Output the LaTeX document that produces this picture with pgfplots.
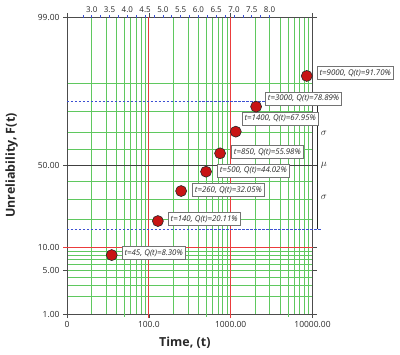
\documentclass[border=0pt]{standalone}
\usepackage{fontspec}
\setmainfont{Open Sans}
\usepackage{pgfplots}
\pgfplotsset{compat=1.18}

\definecolor{gridgreen}{RGB}{95,200,95}
\definecolor{gridred}{RGB}{235,60,60}
\definecolor{dashblue}{RGB}{60,80,210}
\definecolor{ptred}{RGB}{200,20,20}
\definecolor{txt}{RGB}{40,40,40}

\begin{document}
\begin{tikzpicture}
\begin{axis}[
  scale only axis, width=245.5bp, height=297bp,
  xmode=log, xmin=10, xmax=10000,
  ymin=-2.3263, ymax=2.3263,
  xtick={10,100,1000,10000}, xticklabels={0,100.0,1000.00,10000.00},
  ytick={-2.3263,-1.6449,-1.2816,0,2.3263},
  yticklabels={1.00,5.00,10.00,50.00,99.00},
  minor xtick={20,30,40,50,60,70,80,90,200,300,400,500,600,700,800,900,2000,3000,4000,5000,6000,7000,8000,9000},
  minor ytick={-2.0537,-1.8808,-1.7507,-1.6449,-1.5548,-1.4758,-1.4051,-1.3408,-0.8416,-0.5244,-0.2533,0.2533,0.5244,0.8416,1.2816},
  xminorgrids=true, yminorgrids=true,
  xmajorgrids=false, ymajorgrids=false,
  minor grid style={draw=gridgreen, line width=0.7pt},
  minor x grid style={draw=gridgreen, line width=0.7pt},
  minor y grid style={draw=gridgreen, line width=0.7pt},
  tick align=outside, major tick length=4bp, minor tick length=0pt,
  axis line style={black!70, line width=0.8pt},
  major tick style={black!70, line width=0.6pt},
  ticklabel style={font=\fontsize{8.5}{10}\selectfont, text=txt},
  xlabel={Time, (t)}, ylabel={Unreliability, F(t)},
  label style={font=\fontsize{12.5}{14}\selectfont\bfseries, text=txt},
  ylabel style={at={(axis description cs:-0.225,0.5)}, anchor=center},
  xlabel style={at={(axis description cs:0.48,0)}, yshift=-29bp, anchor=center},
  clip=false,
  /pgf/number format/assume math mode=true,
]
% special grid lines
\draw[gridred, line width=0.8pt] ([yshift=-4bp]axis cs:100,-2.3263) -- (axis cs:100,2.3263);
\draw[gridred, line width=0.8pt] ([yshift=-4bp]axis cs:1000,-2.3263) -- (axis cs:1000,2.3263);
\draw[gridred, line width=0.8pt] ([xshift=-4bp]axis cs:10,-1.2816) -- (axis cs:10000,-1.2816);
\draw[gridgreen, line width=0.7pt] ([yshift=-2.5bp]axis cs:50,-2.3263) -- (axis cs:50,-2.3263);
\draw[gridgreen, line width=0.7pt] ([yshift=-2.5bp]axis cs:500,-2.3263) -- (axis cs:500,-2.3263);
\draw[gridgreen, line width=0.7pt] ([yshift=-2.5bp]axis cs:5000,-2.3263) -- (axis cs:5000,-2.3263);
\draw[black!75, line width=0.9pt] (axis cs:10,0) -- (axis cs:11400,0);
\draw[dashblue, line width=0.9pt, dash pattern=on 2.5pt off 1.5pt] (axis cs:10,1) -- (axis cs:13000,1);
\draw[dashblue, line width=0.9pt, dash pattern=on 2.5pt off 1.5pt] (axis cs:10,-1) -- (axis cs:13000,-1);
% mu / sigma bracket
\draw[black!85, line width=0.9pt] (axis cs:11400,-1) -- (axis cs:11400,1);
\node[anchor=west, inner sep=0pt, text=txt, font=\fontsize{10}{11}\selectfont] at (axis cs:12600,0.5) {$\sigma$};
\node[anchor=west, inner sep=0pt, text=txt, font=\fontsize{10}{11}\selectfont] at (axis cs:12600,0) {$\mu$};
\node[anchor=west, inner sep=0pt, text=txt, font=\fontsize{10}{11}\selectfont] at (axis cs:12600,-0.5) {$\sigma$};

\addplot[only marks, mark=*, mark size=5.5bp,
  mark options={fill=ptred, draw=black!85, line width=0.6pt}]
  coordinates {
  (35.2,-1.403) (129,-0.870) (248,-0.400) (500,-0.097)
  (742,0.191) (1154,0.530) (2045,0.922) (8510,1.403)
  };

\tikzset{lbl/.style={anchor=west, draw=black!55, fill=white, line width=0.7pt,
  inner xsep=2.5pt, inner ysep=3pt, text=txt,
  font=\fontsize{7.9}{9}\selectfont\itshape}}
\node[lbl, xshift=10bp, yshift=2bp] at (axis cs:35.2,-1.403) {t=45, Q(t)=8.30\%};
\node[lbl, xshift=10bp, yshift=2bp] at (axis cs:129,-0.870) {t=140, Q(t)=20.11\%};
\node[lbl, xshift=11bp, yshift=1bp] at (axis cs:248,-0.400) {t=260, Q(t)=32.05\%};
\node[lbl, xshift=11bp, yshift=1bp] at (axis cs:500,-0.097) {t=500, Q(t)=44.02\%};
\node[lbl, xshift=11bp, yshift=1bp] at (axis cs:742,0.191) {t=850, Q(t)=55.98\%};
\node[lbl, xshift=6bp, yshift=13bp] at (axis cs:1154,0.530) {t=1400, Q(t)=67.95\%};
\node[lbl, xshift=9bp, yshift=8bp] at (axis cs:2045,0.922) {t=3000, Q(t)=78.89\%};
\node[lbl, xshift=10bp, yshift=3bp] at (axis cs:8510,1.403) {t=9000, Q(t)=91.70\%};
\end{axis}

% top ln(t) axis
\begin{axis}[
  scale only axis, width=245.5bp, height=297bp,
  xmin=2.302585, xmax=9.210340, ymin=0, ymax=1,
  axis x line*=top, axis y line=none,
  x axis line style={draw=none},
  xtick={3,3.5,4,4.5,5,5.5,6,6.5,7,7.5,8},
  minor xtick={2.75,3.25,3.75,4.25,4.75,5.25,5.75,6.25,6.75,7.25,7.75},
  tick align=center, major tick length=3bp, minor tick length=3bp,
  tick style={dashblue, line width=0.6pt},
  xticklabel style={font=\fontsize{8}{9}\selectfont, text=txt, yshift=-1bp},
  xticklabel={\pgfmathprintnumber[fixed, fixed zerofill, precision=1]{\tick}},
  /pgf/number format/assume math mode=true,
]
\end{axis}
\path (-67bp,-41bp) rectangle (333bp,314bp);
\end{tikzpicture}
\end{document}
